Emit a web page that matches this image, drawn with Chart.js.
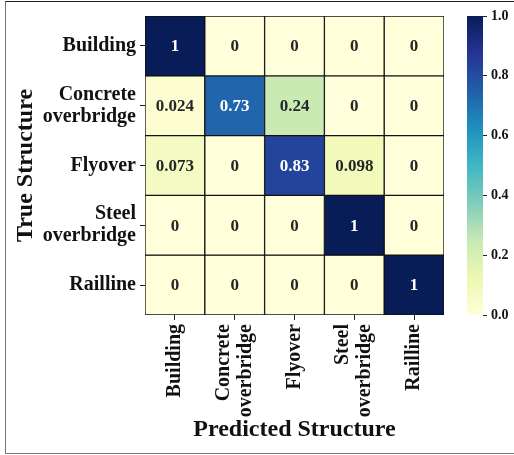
<!DOCTYPE html>
<html>
<head>
<meta charset="utf-8">
<script src="https://cdn.jsdelivr.net/npm/chart.js@4/dist/chart.umd.min.js"></script>
<style>
    body { margin: 0; background: #fff; }
    #wrap { position: relative; width: 514px; height: 455px; overflow: hidden; }
    #frame {
        position: absolute; left: 5px; top: 1px; width: 509px; height: 451px;
        border-top: 1px solid #1a1a1a; border-left: 1px solid #777; border-bottom: 1px solid #777;
    }
    #heatmap { position: absolute; left: 0; top: 0; }
    #colorbar { position: absolute; left: 440px; top: 0; }
</style>
</head>
<body>
<div id="wrap">
    <div id="frame"></div>
    <canvas id="heatmap" width="514" height="455"></canvas>
    <canvas id="colorbar" width="74" height="455"></canvas>
</div>
<script>
// confusion matrix rows (true class), columns = predicted class
const classLabels = [['Building'], ['Concrete', 'overbridge'], ['Flyover'], ['Steel', 'overbridge'], ['Railline']];
const rowBuilding = [1, 0, 0, 0, 0];
const rowConcrete = [0.024, 0.73, 0.24, 0, 0];
const rowFlyover = [0.073, 0, 0.83, 0.098, 0];
const rowSteel = [0, 0, 0, 1, 0];
const rowRailline = [0, 0, 0, 0, 1];
const colorbarTicks = [0, 0.2, 0.4, 0.6, 0.8, 1.0];

const rows = [rowBuilding, rowConcrete, rowFlyover, rowSteel, rowRailline];

// YlGnBu colormap stops
const ylGnBu = [
    [255, 255, 217], [237, 248, 177], [199, 233, 180], [127, 205, 187], [65, 182, 196],
    [29, 145, 192], [34, 94, 168], [37, 52, 148], [8, 29, 88]
];

function cmap(v) {
    const p = Math.min(Math.max(v, 0), 1) * (ylGnBu.length - 1);
    const i = Math.min(Math.floor(p), ylGnBu.length - 2);
    const t = p - i;
    const a = ylGnBu[i], b = ylGnBu[i + 1];
    return a.map((c, k) => Math.round(c + (b[k] - c) * t));
}

function rgb(c) {
    return 'rgb(' + c.join(',') + ')';
}

function textColor(v) {
    const lum = cmap(v).map(c => {
        c = c / 255;
        return c <= 0.03928 ? c / 12.92 : Math.pow((c + 0.055) / 1.055, 2.4);
    });
    const l = 0.2126 * lum[0] + 0.7152 * lum[1] + 0.0722 * lum[2];
    return l > 0.408 ? '#262626' : '#ffffff';
}

const serif = "'Liberation Serif', 'Times New Roman', serif";
const tickFont = { family: serif, size: 20, weight: 'bold', lineHeight: 1.1 };
const halfLine = tickFont.size * tickFont.lineHeight / 2;

const cellText = {
    id: 'cellText',
    afterDatasetsDraw(chart) {
        const ctx = chart.ctx;
        ctx.save();
        ctx.font = 'bold 17px ' + serif;
        ctx.textAlign = 'center';
        ctx.textBaseline = 'middle';
        chart.data.datasets.forEach((ds, i) => {
            chart.getDatasetMeta(i).data.forEach((bar, j) => {
                const v = rows[i][j];
                ctx.fillStyle = textColor(v);
                ctx.fillText(String(v), bar.x, (bar.y + bar.base) / 2 + 1);
            });
        });
        ctx.restore();
    }
};

new Chart(document.getElementById('heatmap'), {
    type: 'bar',
    data: {
        labels: classLabels,
        datasets: rows.map((row, r) => ({
            data: row.map(() => [r, r + 1]),
            backgroundColor: row.map(v => rgb(cmap(v))),
            borderColor: '#111',
            borderWidth: 1,
            borderSkipped: false,
            barPercentage: 1,
            categoryPercentage: 1,
            grouped: false
        }))
    },
    options: {
        responsive: false,
        animation: false,
        devicePixelRatio: 1,
        layout: { padding: { left: 0, top: 16, right: 70, bottom: 0 } },
        plugins: { legend: { display: false }, tooltip: { enabled: false } },
        scales: {
            x: {
                afterFit: s => { s.height = 140; },
                border: { display: false },
                grid: { offset: false, drawOnChartArea: false, drawTicks: true, tickLength: 5, color: '#222' },
                ticks: {
                    color: '#111', padding: 4, minRotation: 90, maxRotation: 90, autoSkip: false,
                    // rotated two-line labels start at the tick; shift them back half a line,
                    // single-line ones are pushed forward again through the (invisible) backdrop path
                    labelOffset: -halfLine,
                    showLabelBackdrop: c => classLabels[c.index].length === 1,
                    backdropColor: 'rgba(0,0,0,0)',
                    backdropPadding: 0,
                    font: tickFont
                },
                title: {
                    display: true, text: 'Predicted Structure', color: '#111',
                    font: { family: serif, size: 24, weight: 'bold' },
                    padding: { top: 0, bottom: 11 }
                }
            },
            y: {
                type: 'linear',
                min: 0,
                max: 5,
                reverse: true,
                afterFit: s => { s.width = 145; },
                afterBuildTicks: s => { s.ticks = classLabels.map((l, i) => ({ value: i + 0.5 })); },
                border: { display: false },
                grid: { drawOnChartArea: false, drawTicks: true, tickLength: 5, color: '#222' },
                ticks: {
                    color: '#111', padding: 4, autoSkip: false,
                    callback: v => classLabels[Math.floor(v)],
                    font: tickFont
                },
                title: {
                    display: true, text: 'True Structure', color: '#111',
                    font: { family: serif, size: 24, weight: 'bold' },
                    padding: { top: 11, bottom: 0 }
                }
            }
        }
    },
    plugins: [cellText]
});

// colour scale bar
new Chart(document.getElementById('colorbar'), {
    type: 'bar',
    data: {
        labels: [''],
        datasets: [{
            data: [[0, 1]],
            backgroundColor: context => {
                const chart = context.chart;
                const y = chart.scales.y;
                if (!y || !chart.chartArea) return rgb(cmap(0.5));
                const g = chart.ctx.createLinearGradient(0, y.getPixelForValue(0), 0, y.getPixelForValue(1));
                ylGnBu.forEach((c, i) => g.addColorStop(i / (ylGnBu.length - 1), rgb(c)));
                return g;
            },
            borderWidth: 0,
            barPercentage: 1,
            categoryPercentage: 1
        }]
    },
    options: {
        responsive: false,
        animation: false,
        devicePixelRatio: 1,
        layout: { padding: { left: 27, top: 16, right: 0, bottom: 140 } },
        plugins: { legend: { display: false }, tooltip: { enabled: false } },
        scales: {
            x: { display: false },
            y: {
                position: 'right',
                min: 0,
                max: 1,
                afterFit: s => { s.width = 31; },
                afterBuildTicks: s => { s.ticks = colorbarTicks.map(v => ({ value: v })); },
                border: { display: false },
                grid: { drawOnChartArea: false, drawTicks: true, tickLength: 4, color: '#222' },
                ticks: {
                    color: '#111', padding: 4,
                    callback: v => v.toFixed(1),
                    font: { family: serif, size: 14, weight: 'bold' }
                }
            }
        }
    }
});
</script>
</body>
</html>
